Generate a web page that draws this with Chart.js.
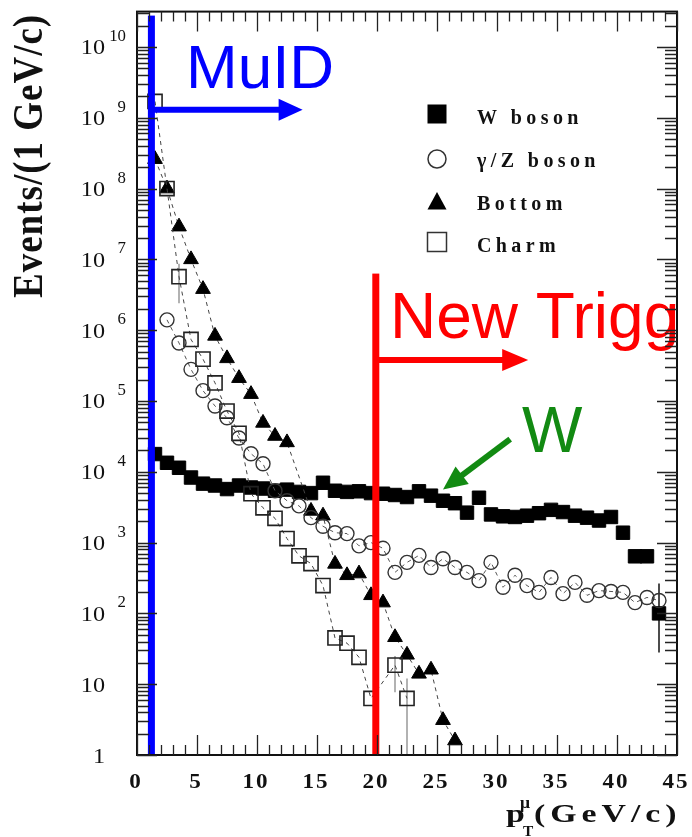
<!DOCTYPE html>
<html>
<head>
<meta charset="utf-8">
<script src="https://cdn.jsdelivr.net/npm/chart.js@4.4.1/dist/chart.umd.min.js"></script>
<style>
  html, body { margin: 0; padding: 0; background: #fff; }
  #mycanvas { display: block; }
</style>
</head>
<body>
<canvas id="mycanvas" width="692" height="837"></canvas>
<script>
// muon pT bins (GeV/c), bin centres
var ptBins = [1.5, 2.5, 3.5, 4.5, 5.5, 6.5, 7.5, 8.5, 9.5, 10.5,
              11.5, 12.5, 13.5, 14.5, 15.5, 16.5, 17.5, 18.5, 19.5, 20.5,
              21.5, 22.5, 23.5, 24.5, 25.5, 26.5, 27.5, 28.5, 29.5, 30.5,
              31.5, 32.5, 33.5, 34.5, 35.5, 36.5, 37.5, 38.5, 39.5, 40.5,
              41.5, 42.5, 43.5];

// events per 1 GeV/c
var wBoson = [17800, 13400, 11400, 8300, 6800, 6400, 5700, 6400, 6000, 5800,
              5400, 5600, 5200, 5000, 7000, 5400, 5200, 5300, 5000, 4900,
              4700, 4400, 5300, 4600, 3900, 3600, 2650, 4300, 2500, 2350,
              2300, 2400, 2600, 2900, 2700, 2400, 2250, 2050, 2300, 1380,
              640, 640, 100];
var gammaZ = [null, 1.4e6, 6.6e5, 2.8e5, 1.4e5, 8.5e4, 5.8e4, 3.0e4, 1.8e4, 1.3e4,
              5400, 3900, 3300, 2250, 1700, 1380, 1340, 900, 1000, 830,
              380, 525, 660, 445, 590, 445, 380, 290, 525, 234,
              345, 247, 198, 322, 190, 274, 180, 210, 204, 198,
              142, 168, 152];
var bottom = [2.6e8, 1.0e8, 2.9e7, 1.0e7, 3.8e6, 8.3e5, 4.0e5, 2.1e5, 1.25e5, 4.9e4,
              3.2e4, 2.6e4, null, 2800, 2400, 500, 345, 365, 180, 142,
              46, 26, 14, 16, 3.1, 1.6];
var charm = [1.7e9, 1.0e8, 5.7e6, 7.4e5, 3.9e5, 1.8e5, 7.2e4, 3.5e4, 4900, 3100,
             2200, 1140, 650, 505, 247, 45, 38, 24, 6.3, null,
             18.6, 6.3];

// [pT, low, high]
var charmErrors = [[3.5, 2.4e6, 8.7e6], [21.5, 7.7, 25], [22.5, 1, 12]];
var wErrors = [[43.5, 28, 265]];

var legendLabels = ["W boson", "\u03b3/Z boson", "Bottom", "Charm"];
var xTickLabels = ["0", "5", "10", "15", "20", "25", "30", "35", "40", "45"];
var yDecades = [0, 1, 2, 3, 4, 5, 6, 7, 8, 9, 10];

// cut lines and arrows (pT, events)
var muidCut = 1.2, muidArrowY = 1.3e9, muidArrowEnd = 13.8;
var trigCut = 19.9, trigTop = 6.3e6, trigArrowY = 3.8e5, trigArrowEnd = 32.6;
var wArrowFrom = [31.1, 2.9e4], wArrowTo = [25.5, 5600];

var SERIF = "'Liberation Serif', 'Times New Roman', serif";
var SANS = "'Liberation Sans', Arial, sans-serif";

function pts(vals) {
  var out = [];
  for (var i = 0; i < vals.length; i++) {
    if (vals[i] != null) out.push({ x: ptBins[i], y: vals[i] });
  }
  return out;
}

// text drawn one glyph at a time, stretched sideways with extra gaps
function spacedText(ctx, str, x, y, sx, gap, align) {
  var widths = [], total = 0;
  for (var i = 0; i < str.length; i++) {
    var w = ctx.measureText(str[i]).width * sx;
    widths.push(w);
    total += w;
  }
  total += gap * (str.length - 1);
  var cx = x;
  if (align === 'right') cx = x - total;
  if (align === 'center') cx = x - total / 2;
  ctx.textAlign = 'left';
  for (var j = 0; j < str.length; j++) {
    ctx.save();
    ctx.translate(cx, y);
    ctx.scale(sx, 1);
    ctx.fillText(str[j], 0, 0);
    ctx.restore();
    cx += widths[j] + gap;
  }
  return total;
}

function arrow(ctx, x1, y1, x2, y2, color, lw, headLen, headHalf) {
  var ang = Math.atan2(y2 - y1, x2 - x1);
  var bx = x2 - Math.cos(ang) * headLen, by = y2 - Math.sin(ang) * headLen;
  ctx.save();
  ctx.strokeStyle = color;
  ctx.fillStyle = color;
  ctx.lineWidth = lw;
  ctx.beginPath();
  ctx.moveTo(x1, y1);
  ctx.lineTo(bx + Math.cos(ang) * 2, by + Math.sin(ang) * 2);
  ctx.stroke();
  ctx.beginPath();
  ctx.moveTo(x2, y2);
  ctx.lineTo(bx - Math.sin(ang) * headHalf, by + Math.cos(ang) * headHalf);
  ctx.lineTo(bx + Math.sin(ang) * headHalf, by - Math.cos(ang) * headHalf);
  ctx.closePath();
  ctx.fill();
  ctx.restore();
}

var errorBars = {
  id: 'errorBars',
  beforeDatasetsDraw: function(chart) {
    var ctx = chart.ctx, xs = chart.scales.x, ys = chart.scales.y;
    ctx.save();
    ctx.lineWidth = 1.5;
    ctx.strokeStyle = '#999';
    charmErrors.forEach(function(e) {
      var px = xs.getPixelForValue(e[0]);
      ctx.beginPath();
      ctx.moveTo(px, ys.getPixelForValue(e[1]));
      ctx.lineTo(px, ys.getPixelForValue(e[2]));
      ctx.stroke();
    });
    ctx.strokeStyle = '#111';
    wErrors.forEach(function(e) {
      var px = xs.getPixelForValue(e[0]);
      ctx.beginPath();
      ctx.moveTo(px, ys.getPixelForValue(e[1]));
      ctx.lineTo(px, ys.getPixelForValue(e[2]));
      ctx.stroke();
    });
    ctx.restore();
  }
};

var frame = {
  id: 'frame',
  afterDraw: function(chart) {
    var ctx = chart.ctx, a = chart.chartArea;
    var xs = chart.scales.x, ys = chart.scales.y;
    ctx.save();

    // cut lines and arrows
    var bx = xs.getPixelForValue(muidCut);
    ctx.fillStyle = '#0000ff';
    ctx.fillRect(bx - 3.5, a.top + 4, 7, a.bottom - a.top - 4);
    arrow(ctx, bx, ys.getPixelForValue(muidArrowY), xs.getPixelForValue(muidArrowEnd),
          ys.getPixelForValue(muidArrowY), '#0000ff', 6, 24, 11);

    var rx = xs.getPixelForValue(trigCut);
    ctx.fillStyle = '#ff0000';
    ctx.fillRect(rx - 3.5, ys.getPixelForValue(trigTop), 7, a.bottom - ys.getPixelForValue(trigTop));
    arrow(ctx, rx, ys.getPixelForValue(trigArrowY), xs.getPixelForValue(trigArrowEnd),
          ys.getPixelForValue(trigArrowY), '#ff0000', 6, 26, 11);

    arrow(ctx, xs.getPixelForValue(wArrowFrom[0]), ys.getPixelForValue(wArrowFrom[1]),
          xs.getPixelForValue(wArrowTo[0]), ys.getPixelForValue(wArrowTo[1]), '#128a12', 6, 24, 11);

    ctx.textBaseline = 'alphabetic';
    ctx.font = '62px ' + SANS;
    ctx.fillStyle = '#0000ff';
    ctx.fillText('MuID', 186, 88);
    ctx.font = '64px ' + SANS;
    ctx.fillStyle = '#ff0000';
    ctx.fillText('New Trigg', 390, 338);
    ctx.fillStyle = '#128a12';
    ctx.fillText('W', 522, 452);

    // frame
    ctx.strokeStyle = '#111';
    ctx.lineWidth = 2;
    ctx.strokeRect(a.left, a.top, a.right - a.left, a.bottom - a.top);

    // inward ticks
    ctx.lineWidth = 1.3;
    ctx.strokeStyle = '#222';
    ctx.beginPath();
    for (var i = 0; i <= 45; i++) {
      var px = Math.round(xs.getPixelForValue(i)) + 0.5;
      var len = i % 5 === 0 ? 20 : 10;
      ctx.moveTo(px, a.bottom); ctx.lineTo(px, a.bottom - len);
      ctx.moveTo(px, a.top); ctx.lineTo(px, a.top + len);
    }
    for (var d = 0; d <= 10; d++) {
      for (var m = 1; m <= 9; m++) {
        var v = m * Math.pow(10, d);
        if (v > ys.max) break;
        var py = Math.round(ys.getPixelForValue(v)) + 0.5;
        var l = m === 1 ? 20 : 12;
        ctx.moveTo(a.left, py); ctx.lineTo(a.left + l, py);
        ctx.moveTo(a.right, py); ctx.lineTo(a.right - l, py);
      }
    }
    ctx.stroke();

    // x tick labels
    ctx.fillStyle = '#111';
    ctx.font = 'bold 21px ' + SERIF;
    xTickLabels.forEach(function(t) {
      spacedText(ctx, t, xs.getPixelForValue(+t) - 2, 788, 1.1, 2, 'center');
    });

    // y tick labels, powers of ten
    yDecades.forEach(function(dd) {
      var py = ys.getPixelForValue(Math.pow(10, dd));
      ctx.font = '22px ' + SERIF;
      if (dd === 0) {
        spacedText(ctx, '1', 105, py + 8, 1.1, 0, 'right');
        return;
      }
      spacedText(ctx, '10', 105, py + 7.5, 1.1, 0, 'right');
      if (dd > 1) {
        ctx.font = '16px ' + SERIF;
        spacedText(ctx, String(dd), 126, py - 6, 1.05, 0, 'right');
      }
    });

    // axis titles
    ctx.font = 'bold 37px ' + SERIF;
    ctx.save();
    ctx.translate(42, 298);
    ctx.rotate(-Math.PI / 2);
    ctx.scale(1, 1.15);
    spacedText(ctx, 'Events/(1 GeV/c)', 0, 0, 1, 1, 'left');
    ctx.restore();

    ctx.font = 'bold 26px ' + SERIF;
    spacedText(ctx, 'p', 506, 822, 1.3, 0, 'left');
    spacedText(ctx, '(GeV/c)', 534, 822, 1.3, 5, 'left');
    ctx.font = 'bold 16px ' + SERIF;
    spacedText(ctx, '\u03bc', 520, 808, 1.1, 0, 'left');
    ctx.font = 'bold 14px ' + SERIF;
    spacedText(ctx, 'T', 523, 836, 1.1, 0, 'left');

    // legend
    var lx = 437, rows = [114, 159, 201, 242], bases = [124, 167, 210, 252];
    ctx.lineWidth = 1.5;
    ctx.fillStyle = '#000';
    ctx.fillRect(lx - 9.5, rows[0] - 9.5, 19, 19);
    ctx.strokeStyle = '#333';
    ctx.beginPath();
    ctx.arc(lx, rows[1], 9, 0, Math.PI * 2);
    ctx.stroke();
    ctx.beginPath();
    ctx.moveTo(lx, rows[2] - 9);
    ctx.lineTo(lx + 9.5, rows[2] + 8.5);
    ctx.lineTo(lx - 9.5, rows[2] + 8.5);
    ctx.closePath();
    ctx.fill();
    ctx.strokeRect(lx - 9.5, rows[3] - 9.5, 19, 19);
    ctx.font = 'bold 20px ' + SERIF;
    ctx.fillStyle = '#111';
    legendLabels.forEach(function(t, k) {
      spacedText(ctx, t, 477, bases[k], 1.0, 4.4, 'left');
    });

    ctx.restore();
  }
};

var dash = [4, 4];
var chartdata = {
  datasets: [
    {
      label: legendLabels[1],
      data: pts(gammaZ),
      showLine: true,
      borderColor: '#555',
      borderWidth: 1,
      borderDash: dash,
      pointStyle: 'circle',
      pointRadius: 7,
      pointBorderWidth: 1.4,
      pointBorderColor: '#333',
      pointBackgroundColor: 'rgba(255,255,255,0)'
    },
    {
      label: legendLabels[3],
      data: pts(charm),
      showLine: true,
      borderColor: '#444',
      borderWidth: 1,
      borderDash: dash,
      pointStyle: 'rect',
      pointRadius: 10,
      pointBorderWidth: 1.6,
      pointBorderColor: '#222',
      pointBackgroundColor: 'rgba(255,255,255,0)'
    },
    {
      label: legendLabels[2],
      data: pts(bottom),
      showLine: true,
      borderColor: '#444',
      borderWidth: 1,
      borderDash: dash,
      pointStyle: 'triangle',
      pointRadius: 8.5,
      pointBorderWidth: 1,
      pointBorderColor: '#000',
      pointBackgroundColor: '#000'
    },
    {
      label: legendLabels[0],
      data: pts(wBoson),
      showLine: false,
      pointStyle: 'rect',
      pointRadius: 9.5,
      pointBorderWidth: 1,
      pointBorderColor: '#000',
      pointBackgroundColor: '#000'
    }
  ]
};

var ctx = document.getElementById('mycanvas');
var chart = new Chart(ctx, {
  type: 'scatter',
  data: chartdata,
  options: {
    responsive: false,
    devicePixelRatio: 1,
    animation: false,
    layout: { padding: { left: 137, right: 15, top: 9, bottom: 82 } },
    plugins: { legend: { display: false }, tooltip: { enabled: false } },
    scales: {
      x: { type: 'linear', min: 0, max: 45, display: false },
      y: { type: 'logarithmic', min: 1, max: 3.16e10, display: false }
    }
  },
  plugins: [errorBars, frame]
});
</script>
</body>
</html>
